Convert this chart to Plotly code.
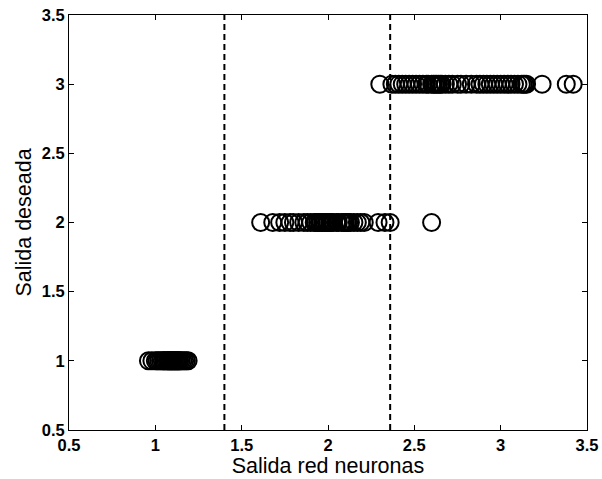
import plotly.graph_objects as go

# Data
x_class1 = [0.96, 0.98, 1.00, 1.01, 1.02, 1.03, 1.04, 1.05, 1.05, 1.06, 1.07, 1.07, 1.08, 1.08,
            1.09, 1.09, 1.10, 1.10, 1.11, 1.11, 1.12, 1.12, 1.13, 1.13, 1.14, 1.14, 1.15, 1.16,
            1.17, 1.18, 1.19]
x_class2 = [1.61, 1.68, 1.72, 1.75, 1.78, 1.80, 1.83, 1.86, 1.88, 1.90, 1.92, 1.93, 1.94, 1.95,
            1.96, 1.97, 1.98, 1.99, 2.00, 2.01, 2.02, 2.03, 2.05, 2.06, 2.08, 2.09, 2.10, 2.11,
            2.12, 2.13, 2.15, 2.17, 2.19, 2.21, 2.29, 2.33, 2.36, 2.60]
x_class3 = [2.30, 2.37, 2.39, 2.41, 2.43, 2.45, 2.47, 2.49, 2.51, 2.53, 2.55, 2.57, 2.58, 2.60,
            2.61, 2.62, 2.63, 2.64, 2.65, 2.66, 2.68, 2.70, 2.72, 2.75, 2.77, 2.80, 2.83, 2.86,
            2.88, 2.90, 2.92, 2.94, 2.96, 2.98, 3.00, 3.02, 3.04, 3.06, 3.08, 3.10, 3.12, 3.13,
            3.14, 3.15, 3.24, 3.38, 3.42]
targets = [1, 2, 3]
thresholds = [1.4, 2.36]
tick_vals = [0.5, 1, 1.5, 2, 2.5, 3, 3.5]
tick_text = ["0.5", "1", "1.5", "2", "2.5", "3", "3.5"]

xs = x_class1 + x_class2 + x_class3
ys = [targets[0]] * len(x_class1) + [targets[1]] * len(x_class2) + [targets[2]] * len(x_class3)

fig = go.Figure()
fig.add_trace(go.Scatter(
    x=xs, y=ys, mode="markers",
    marker=dict(symbol="circle-open", size=17, color="black", line=dict(width=2, color="black")),
    showlegend=False, hoverinfo="x+y",
))
for t in thresholds:
    fig.add_trace(go.Scatter(
        x=[t, t], y=[0.5, 3.5], mode="lines",
        line=dict(color="black", width=2, dash="6px,4px"),
        showlegend=False, hoverinfo="skip",
    ))

axis_common = dict(
    range=[0.5, 3.5], tickvals=tick_vals, ticktext=tick_text,
    ticks="inside", ticklen=5, tickwidth=1, tickcolor="black",
    showline=True, linecolor="black", linewidth=1, mirror="allticks",
    showgrid=False, zeroline=False, automargin=False,
    tickfont=dict(family="Arial", size=16.5, color="black", weight=900),
)

fig.update_layout(
    width=602, height=479,
    margin=dict(l=69, r=15, t=15, b=49),
    paper_bgcolor="white", plot_bgcolor="white",
    xaxis=dict(**axis_common, ticklabelstandoff=0,
               title=dict(text="Salida red neuronas", standoff=0,
                          font=dict(family="Arial", size=21.5, color="black"))),
    yaxis=dict(**axis_common,
               title=dict(text="Salida deseada", standoff=4,
                          font=dict(family="Arial", size=21.5, color="black"))),
)

fig.write_html("out.html")
